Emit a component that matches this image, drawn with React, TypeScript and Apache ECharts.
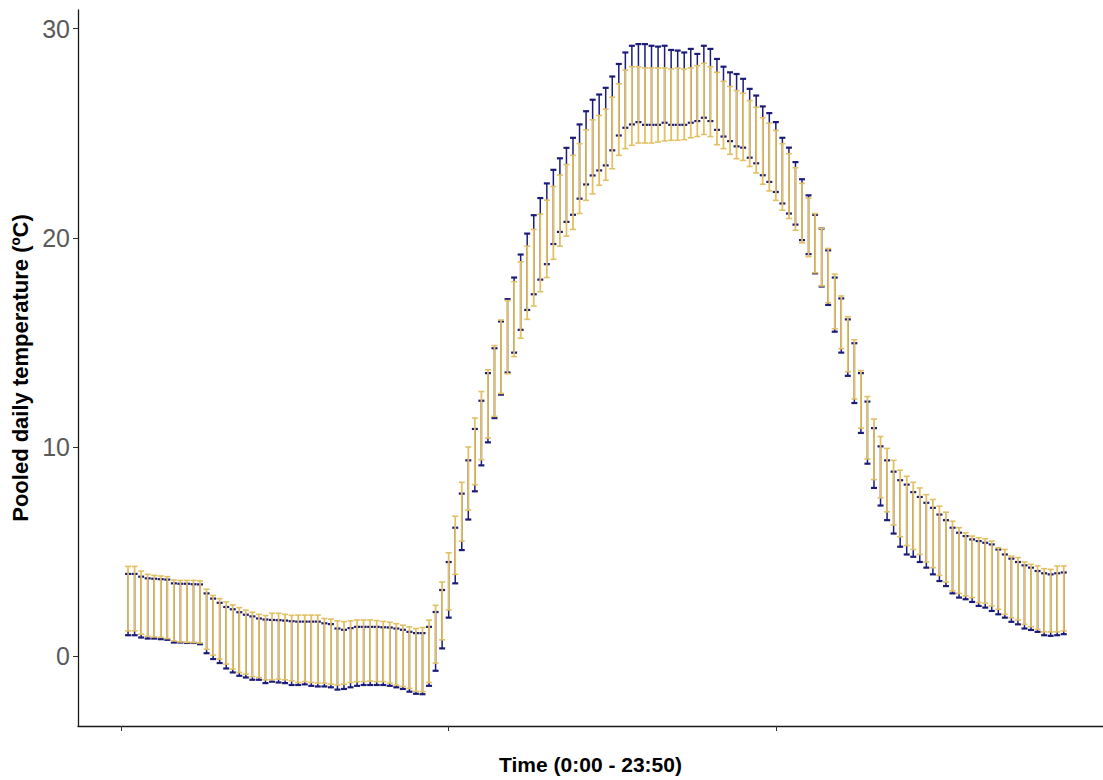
import React, { useEffect, useRef } from "react";
import * as echarts from "echarts";

// Time index 1..144 (0:00 - 23:50, 10-minute steps)
const timeLabels: string[] = Array.from({ length: 144 }, (_, k) => `${Math.floor(k / 6)}:${String((k % 6) * 10).padStart(2, "0")}`);

const goldHigh = [
  4.29, 4.29, 4.07, 3.91, 3.86, 3.83, 3.80, 3.64, 3.62, 3.62, 3.62, 3.60, 3.20, 2.90, 2.75, 2.59, 2.45, 2.32, 2.20, 2.10, 2.00, 1.94, 2.05, 2.05, 2.00, 1.95,
  1.96, 1.96, 1.96, 1.96, 1.80, 1.77, 1.69, 1.65, 1.69, 1.73, 1.73, 1.73, 1.70, 1.66, 1.62, 1.55, 1.48, 1.40, 1.32, 1.37, 1.72, 2.43, 3.54, 4.94,
  6.69, 8.31, 10.00, 11.38, 12.65, 13.69, 14.85, 16.07, 17.00, 17.90, 18.85, 19.60, 20.40, 21.13, 21.80, 22.45, 23.00, 23.50,
  23.94, 24.50, 25.16, 25.64, 25.85, 26.15, 26.72, 27.36, 28.02, 28.18, 28.18, 28.12, 28.12, 28.12, 28.12, 28.07, 28.12, 28.07, 28.12, 28.23, 28.34, 28.18,
  27.91, 27.48, 27.23, 27.04, 26.91, 26.56, 26.24, 25.74, 25.48, 25.13, 24.50, 24.02, 23.35, 22.60, 21.90, 21.16, 20.45, 19.49, 18.26, 17.22, 16.23, 15.12, 13.65, 12.41, 11.33, 10.50, 9.93, 9.36,
  8.89, 8.60, 8.31, 8.04, 7.72, 7.49, 7.17, 6.88, 6.45, 6.14, 5.90, 5.74, 5.66, 5.61, 5.50, 5.18, 5.10, 4.78, 4.71, 4.50, 4.39, 4.31, 4.18, 4.15, 4.31, 4.31,
];

const goldLow = [
  1.21, 1.21, 1.05, 0.95, 0.92, 0.90, 0.84, 0.73, 0.68, 0.66, 0.65, 0.63, 0.33, 0.05, -0.14, -0.38, -0.62, -0.78, -0.86, -0.98, -1.02, -1.13, -1.13, -1.10, -1.13, -1.18,
  -1.26, -1.22, -1.26, -1.29, -1.29, -1.34, -1.38, -1.34, -1.26, -1.22, -1.22, -1.19, -1.22, -1.22, -1.29, -1.38, -1.45, -1.54, -1.68, -1.70, -1.26, -0.33, 0.78, 2.21,
  3.91, 5.50, 6.98, 8.20, 9.39, 10.43, 11.46, 12.56, 13.50, 14.32, 15.20, 16.10, 16.74, 17.42, 18.10, 18.97, 19.60, 20.08,
  20.40, 21.16, 21.79, 22.10, 22.51, 22.75, 23.30, 23.94, 24.26, 24.42, 24.53, 24.53, 24.53, 24.58, 24.63, 24.66, 24.66, 24.69, 24.78, 24.84, 24.94, 24.84,
  24.45, 24.26, 23.99, 23.78, 23.70, 23.41, 23.10, 22.56, 22.24, 21.79, 21.32, 20.92, 20.36, 19.76, 19.10, 18.33, 17.70, 16.90, 15.65, 14.70, 13.60, 12.30, 10.90, 9.43, 8.44, 7.57, 6.90, 6.27,
  5.71, 5.29, 5.10, 4.86, 4.50, 4.23, 3.86, 3.54, 3.12, 3.00, 2.88, 2.80, 2.56, 2.53, 2.40, 2.24, 2.00, 1.84, 1.73, 1.52, 1.41, 1.28, 1.16, 1.16, 1.16, 1.21,
];

const navyHigh = [
  3.93, 3.93, 3.80, 3.72, 3.70, 3.68, 3.66, 3.48, 3.46, 3.46, 3.44, 3.43, 3.00, 2.75, 2.55, 2.35, 2.24, 2.10, 1.98, 1.90, 1.80, 1.75, 1.73, 1.72, 1.70, 1.67,
  1.65, 1.65, 1.65, 1.65, 1.57, 1.53, 1.32, 1.26, 1.34, 1.40, 1.40, 1.40, 1.40, 1.38, 1.37, 1.32, 1.26, 1.16, 1.10, 1.10, 1.40, 2.11, 3.16, 4.50,
  6.14, 7.77, 9.36, 10.86, 12.21, 13.53, 14.72, 16.00, 17.07, 18.10, 19.20, 20.20, 21.08, 21.90, 22.60, 23.25, 23.80, 24.30,
  24.78, 25.42, 26.05, 26.60, 26.85, 27.17, 27.71, 28.31, 28.86, 29.18, 29.26, 29.26, 29.18, 29.14, 29.18, 28.98, 28.95, 28.86, 29.03, 28.79, 29.18, 29.03,
  28.55, 28.18, 27.91, 27.83, 27.60, 27.12, 26.80, 26.28, 25.96, 25.53, 24.78, 24.31, 23.62, 22.80, 22.03, 21.10, 20.44, 19.40, 18.10, 17.10, 16.10, 14.96, 13.53, 12.17, 10.90, 10.03, 9.36, 8.82,
  8.41, 8.20, 7.84, 7.61, 7.33, 7.09, 6.77, 6.50, 6.14, 5.90, 5.74, 5.58, 5.50, 5.42, 5.34, 5.10, 4.86, 4.66, 4.50, 4.34, 4.23, 4.07, 3.96, 3.91, 3.96, 4.00,
];

const navyLow = [
  1.00, 1.00, 0.89, 0.84, 0.84, 0.81, 0.78, 0.65, 0.65, 0.63, 0.63, 0.57, 0.14, -0.14, -0.33, -0.59, -0.78, -0.94, -1.02, -1.13, -1.13, -1.29, -1.22, -1.26, -1.29, -1.38,
  -1.38, -1.35, -1.42, -1.45, -1.45, -1.49, -1.60, -1.57, -1.49, -1.42, -1.38, -1.38, -1.38, -1.38, -1.42, -1.49, -1.57, -1.70, -1.80, -1.82, -1.42, -0.70, 0.37, 1.84,
  3.48, 5.07, 6.53, 7.88, 9.12, 10.22, 11.38, 12.50, 13.56, 14.51, 15.60, 16.55, 17.30, 18.00, 18.74, 19.70, 20.28, 20.76,
  21.10, 21.87, 22.55, 22.98, 23.22, 23.46, 24.18, 24.89, 25.26, 25.42, 25.53, 25.40, 25.40, 25.40, 25.50, 25.40, 25.40, 25.40, 25.50, 25.58, 25.74, 25.58,
  25.16, 24.84, 24.62, 24.37, 24.31, 23.83, 23.56, 22.99, 22.67, 22.19, 21.64, 21.16, 20.63, 19.89, 19.22, 18.30, 17.67, 16.79, 15.51, 14.51, 13.40, 12.10, 10.67, 9.20, 8.04, 7.20, 6.50, 5.86,
  5.23, 4.86, 4.75, 4.50, 4.23, 3.91, 3.59, 3.35, 3.00, 2.80, 2.72, 2.59, 2.40, 2.32, 2.16, 2.00, 1.84, 1.64, 1.52, 1.32, 1.25, 1.16, 1.00, 0.97, 1.00, 1.05,
];

const yTicks = [0, 10, 20, 30];
const xTicks = [0, 50, 100, 150];

const NAVY = "#1c1c78";
const GOLD = "#e2c064";
const FONT = "Liberation Sans, Arial, sans-serif";

function makeErrorBar(color: string, lw: number, capHalf: number, capW: number) {
  return (params: any, api: any) => {
    const x = api.value(0);
    const lo = api.value(1);
    const hi = api.value(2);
    const pLo = api.coord([x, lo]);
    const pHi = api.coord([x, hi]);
    const style = { stroke: color, lineWidth: lw, fill: "none" };
    const capStyle = { stroke: color, lineWidth: capW, fill: "none" };
    return {
      type: "group",
      children: [
        { type: "line", shape: { x1: pLo[0], y1: pLo[1], x2: pHi[0], y2: pHi[1] }, style },
        { type: "line", shape: { x1: pHi[0] - capHalf, y1: pHi[1], x2: pHi[0] + capHalf, y2: pHi[1] }, style: capStyle },
        { type: "line", shape: { x1: pLo[0] - capHalf, y1: pLo[1], x2: pLo[0] + capHalf, y2: pLo[1] }, style: capStyle },
      ],
    };
  };
}

export default function App() {
  const ref = useRef<HTMLDivElement>(null);
  useEffect(() => {
    if (!ref.current) return;
    const chart = echarts.init(ref.current, undefined, { renderer: "svg" });
    const navyData = timeLabels.map((t, k) => [k + 1, navyLow[k], navyHigh[k], t]);
    const goldData = timeLabels.map((t, k) => [k + 1, goldLow[k], goldHigh[k], t]);
    chart.setOption({
      animation: false,
      backgroundColor: "#ffffff",
      grid: { left: 78, right: 0, top: 10, bottom: 52 },
      xAxis: {
        type: "value",
        min: -6.65,
        max: 150,
        name: "Time (0:00 - 23:50)",
        nameLocation: "middle",
        nameGap: 28,
        nameTextStyle: { fontFamily: FONT, fontWeight: "bold", fontSize: 21, color: "#000" },
        axisLine: { show: true, onZero: false, lineStyle: { color: "#1a1a1a", width: 1.3 } },
        axisTick: { show: true, length: 5, customValues: xTicks, lineStyle: { color: "#333", width: 1 } },
        axisLabel: { show: false },
        splitLine: { show: false },
      },
      yAxis: {
        type: "value",
        min: -3.34,
        max: 30.89,
        name: "Pooled daily temperature (ºC)",
        nameLocation: "middle",
        nameGap: 46,
        nameTextStyle: { fontFamily: FONT, fontWeight: "bold", fontSize: 22, color: "#000" },
        axisLine: { show: true, onZero: false, lineStyle: { color: "#1a1a1a", width: 1.3 } },
        axisTick: { show: true, length: 5, customValues: yTicks, lineStyle: { color: "#333", width: 1 } },
        axisLabel: { customValues: yTicks, fontFamily: FONT, fontSize: 25, color: "#5a5a5a", margin: 8 },
        splitLine: { show: false },
      },
      series: [
        {
          type: "custom",
          name: "navy",
          renderItem: makeErrorBar(NAVY, 1.5, 3, 2.2),
          encode: { x: 0, y: [1, 2] },
          data: navyData,
          z: 2,
        },
        {
          type: "custom",
          name: "gold",
          renderItem: makeErrorBar(GOLD, 1.8, 3, 1.6),
          encode: { x: 0, y: [1, 2] },
          data: goldData,
          z: 3,
        },
      ],
    });
    return () => chart.dispose();
  }, []);
  return <div ref={ref} style={{ position: "absolute", left: 0, top: 0, width: 1103, height: 780 }} />;
}
